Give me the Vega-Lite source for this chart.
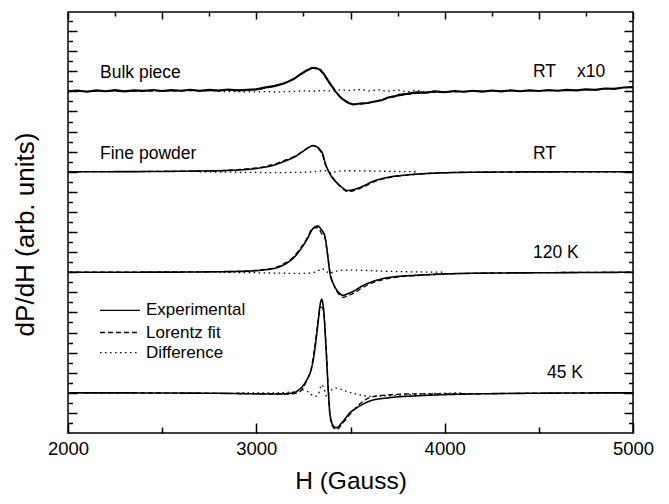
{
  "$schema": "https://vega.github.io/schema/vega-lite/v6.json",
  "autosize": {"type": "none"},
  "width": 565,
  "height": 421,
  "padding": {"left": 68, "top": 12, "right": 36, "bottom": 71},
  "background": "white",
  "config": {
    "view": {"stroke": "black", "strokeWidth": 1.5},
    "font": "Liberation Sans",
    "axis": {"labelFont": "Liberation Sans", "titleFont": "Liberation Sans", "titleFontWeight": "normal", "tickColor": "black", "tickWidth": 1.5, "labelColor": "black", "titleColor": "black", "grid": false, "domain": false}
  },
  "datasets": {
    "curves": [
      {"trace": "fine", "kind": "Experimental", "H": 2000, "v": 26.0},
      {"trace": "fine", "kind": "Experimental", "H": 2400, "v": 26.02},
      {"trace": "fine", "kind": "Experimental", "H": 2600, "v": 26.05},
      {"trace": "fine", "kind": "Experimental", "H": 2800, "v": 26.1},
      {"trace": "fine", "kind": "Experimental", "H": 2900, "v": 26.17},
      {"trace": "fine", "kind": "Experimental", "H": 3000, "v": 26.33},
      {"trace": "fine", "kind": "Experimental", "H": 3100, "v": 26.7},
      {"trace": "fine", "kind": "Experimental", "H": 3150, "v": 27.05},
      {"trace": "fine", "kind": "Experimental", "H": 3200, "v": 27.45},
      {"trace": "fine", "kind": "Experimental", "H": 3250, "v": 28.05},
      {"trace": "fine", "kind": "Experimental", "H": 3280, "v": 28.45},
      {"trace": "fine", "kind": "Experimental", "H": 3300, "v": 28.6},
      {"trace": "fine", "kind": "Experimental", "H": 3320, "v": 28.5},
      {"trace": "fine", "kind": "Experimental", "H": 3338, "v": 28.2},
      {"trace": "fine", "kind": "Experimental", "H": 3354, "v": 27.7},
      {"trace": "fine", "kind": "Experimental", "H": 3365, "v": 26.9},
      {"trace": "fine", "kind": "Experimental", "H": 3375, "v": 26.4},
      {"trace": "fine", "kind": "Experimental", "H": 3385, "v": 26.0},
      {"trace": "fine", "kind": "Experimental", "H": 3400, "v": 25.5},
      {"trace": "fine", "kind": "Experimental", "H": 3420, "v": 25.05},
      {"trace": "fine", "kind": "Experimental", "H": 3445, "v": 24.6},
      {"trace": "fine", "kind": "Experimental", "H": 3465, "v": 24.3},
      {"trace": "fine", "kind": "Experimental", "H": 3481, "v": 24.13},
      {"trace": "fine", "kind": "Experimental", "H": 3500, "v": 24.15},
      {"trace": "fine", "kind": "Experimental", "H": 3530, "v": 24.3},
      {"trace": "fine", "kind": "Experimental", "H": 3570, "v": 24.6},
      {"trace": "fine", "kind": "Experimental", "H": 3620, "v": 25.05},
      {"trace": "fine", "kind": "Experimental", "H": 3700, "v": 25.45},
      {"trace": "fine", "kind": "Experimental", "H": 3800, "v": 25.68},
      {"trace": "fine", "kind": "Experimental", "H": 3900, "v": 25.82},
      {"trace": "fine", "kind": "Experimental", "H": 4000, "v": 25.9},
      {"trace": "fine", "kind": "Experimental", "H": 4200, "v": 25.96},
      {"trace": "fine", "kind": "Experimental", "H": 4500, "v": 25.99},
      {"trace": "fine", "kind": "Experimental", "H": 5000, "v": 26.0},

      {"trace": "fine", "kind": "Difference", "H": 2700, "v": 26.0},
      {"trace": "fine", "kind": "Difference", "H": 2900, "v": 25.95},
      {"trace": "fine", "kind": "Difference", "H": 3100, "v": 25.92},
      {"trace": "fine", "kind": "Difference", "H": 3250, "v": 25.95},
      {"trace": "fine", "kind": "Difference", "H": 3330, "v": 26.05},
      {"trace": "fine", "kind": "Difference", "H": 3360, "v": 26.15},
      {"trace": "fine", "kind": "Difference", "H": 3380, "v": 26.0},
      {"trace": "fine", "kind": "Difference", "H": 3400, "v": 25.9},
      {"trace": "fine", "kind": "Difference", "H": 3430, "v": 26.05},
      {"trace": "fine", "kind": "Difference", "H": 3500, "v": 26.1},
      {"trace": "fine", "kind": "Difference", "H": 3600, "v": 26.08},
      {"trace": "fine", "kind": "Difference", "H": 3700, "v": 26.04},
      {"trace": "fine", "kind": "Difference", "H": 3850, "v": 26.0},

      {"trace": "fine", "kind": "Lorentz fit", "H": 2000, "v": 26.0},
      {"trace": "fine", "kind": "Lorentz fit", "H": 2600, "v": 26.05},
      {"trace": "fine", "kind": "Lorentz fit", "H": 2800, "v": 26.1},
      {"trace": "fine", "kind": "Lorentz fit", "H": 2900, "v": 26.22},
      {"trace": "fine", "kind": "Lorentz fit", "H": 3000, "v": 26.38},
      {"trace": "fine", "kind": "Lorentz fit", "H": 3100, "v": 26.78},
      {"trace": "fine", "kind": "Lorentz fit", "H": 3150, "v": 27.13},
      {"trace": "fine", "kind": "Lorentz fit", "H": 3200, "v": 27.5},
      {"trace": "fine", "kind": "Lorentz fit", "H": 3250, "v": 28.1},
      {"trace": "fine", "kind": "Lorentz fit", "H": 3280, "v": 28.45},
      {"trace": "fine", "kind": "Lorentz fit", "H": 3300, "v": 28.6},
      {"trace": "fine", "kind": "Lorentz fit", "H": 3320, "v": 28.45},
      {"trace": "fine", "kind": "Lorentz fit", "H": 3338, "v": 28.1},
      {"trace": "fine", "kind": "Lorentz fit", "H": 3354, "v": 27.55},
      {"trace": "fine", "kind": "Lorentz fit", "H": 3365, "v": 26.8},
      {"trace": "fine", "kind": "Lorentz fit", "H": 3375, "v": 26.35},
      {"trace": "fine", "kind": "Lorentz fit", "H": 3385, "v": 26.0},
      {"trace": "fine", "kind": "Lorentz fit", "H": 3400, "v": 25.6},
      {"trace": "fine", "kind": "Lorentz fit", "H": 3420, "v": 25.05},
      {"trace": "fine", "kind": "Lorentz fit", "H": 3445, "v": 24.55},
      {"trace": "fine", "kind": "Lorentz fit", "H": 3465, "v": 24.22},
      {"trace": "fine", "kind": "Lorentz fit", "H": 3481, "v": 24.05},
      {"trace": "fine", "kind": "Lorentz fit", "H": 3500, "v": 24.05},
      {"trace": "fine", "kind": "Lorentz fit", "H": 3530, "v": 24.2},
      {"trace": "fine", "kind": "Lorentz fit", "H": 3570, "v": 24.5},
      {"trace": "fine", "kind": "Lorentz fit", "H": 3620, "v": 24.97},
      {"trace": "fine", "kind": "Lorentz fit", "H": 3700, "v": 25.4},
      {"trace": "fine", "kind": "Lorentz fit", "H": 3800, "v": 25.66},
      {"trace": "fine", "kind": "Lorentz fit", "H": 3900, "v": 25.82},
      {"trace": "fine", "kind": "Lorentz fit", "H": 4000, "v": 25.9},
      {"trace": "fine", "kind": "Lorentz fit", "H": 4200, "v": 25.96},
      {"trace": "fine", "kind": "Lorentz fit", "H": 5000, "v": 26.0},

      {"trace": "k120", "kind": "Experimental", "H": 2000, "v": 16.0},
      {"trace": "k120", "kind": "Experimental", "H": 2500, "v": 16.01},
      {"trace": "k120", "kind": "Experimental", "H": 2800, "v": 16.05},
      {"trace": "k120", "kind": "Experimental", "H": 2950, "v": 16.1},
      {"trace": "k120", "kind": "Experimental", "H": 3050, "v": 16.25},
      {"trace": "k120", "kind": "Experimental", "H": 3100, "v": 16.4},
      {"trace": "k120", "kind": "Experimental", "H": 3142, "v": 16.7},
      {"trace": "k120", "kind": "Experimental", "H": 3190, "v": 17.3},
      {"trace": "k120", "kind": "Experimental", "H": 3232, "v": 18.2},
      {"trace": "k120", "kind": "Experimental", "H": 3270, "v": 19.3},
      {"trace": "k120", "kind": "Experimental", "H": 3301, "v": 20.35},
      {"trace": "k120", "kind": "Experimental", "H": 3327, "v": 20.6},
      {"trace": "k120", "kind": "Experimental", "H": 3345, "v": 20.25},
      {"trace": "k120", "kind": "Experimental", "H": 3365, "v": 19.5},
      {"trace": "k120", "kind": "Experimental", "H": 3378, "v": 17.8},
      {"trace": "k120", "kind": "Experimental", "H": 3391, "v": 15.9},
      {"trace": "k120", "kind": "Experimental", "H": 3410, "v": 14.8},
      {"trace": "k120", "kind": "Experimental", "H": 3428, "v": 14.2},
      {"trace": "k120", "kind": "Experimental", "H": 3445, "v": 13.85},
      {"trace": "k120", "kind": "Experimental", "H": 3460, "v": 13.7},
      {"trace": "k120", "kind": "Experimental", "H": 3490, "v": 13.9},
      {"trace": "k120", "kind": "Experimental", "H": 3530, "v": 14.25},
      {"trace": "k120", "kind": "Experimental", "H": 3550, "v": 14.5},
      {"trace": "k120", "kind": "Experimental", "H": 3600, "v": 14.95},
      {"trace": "k120", "kind": "Experimental", "H": 3673, "v": 15.37},
      {"trace": "k120", "kind": "Experimental", "H": 3750, "v": 15.58},
      {"trace": "k120", "kind": "Experimental", "H": 3853, "v": 15.7},
      {"trace": "k120", "kind": "Experimental", "H": 4000, "v": 15.83},
      {"trace": "k120", "kind": "Experimental", "H": 4200, "v": 15.91},
      {"trace": "k120", "kind": "Experimental", "H": 4559, "v": 15.95},
      {"trace": "k120", "kind": "Experimental", "H": 5000, "v": 16.0},

      {"trace": "k120", "kind": "Difference", "H": 2800, "v": 16.0},
      {"trace": "k120", "kind": "Difference", "H": 3000, "v": 15.95},
      {"trace": "k120", "kind": "Difference", "H": 3150, "v": 15.9},
      {"trace": "k120", "kind": "Difference", "H": 3250, "v": 15.88},
      {"trace": "k120", "kind": "Difference", "H": 3320, "v": 16.05},
      {"trace": "k120", "kind": "Difference", "H": 3349, "v": 16.37},
      {"trace": "k120", "kind": "Difference", "H": 3370, "v": 16.1},
      {"trace": "k120", "kind": "Difference", "H": 3390, "v": 15.9},
      {"trace": "k120", "kind": "Difference", "H": 3420, "v": 16.1},
      {"trace": "k120", "kind": "Difference", "H": 3480, "v": 16.22},
      {"trace": "k120", "kind": "Difference", "H": 3550, "v": 16.2},
      {"trace": "k120", "kind": "Difference", "H": 3650, "v": 16.12},
      {"trace": "k120", "kind": "Difference", "H": 3800, "v": 16.05},
      {"trace": "k120", "kind": "Difference", "H": 4000, "v": 16.0},

      {"trace": "k120", "kind": "Lorentz fit", "H": 2000, "v": 16.0},
      {"trace": "k120", "kind": "Lorentz fit", "H": 2800, "v": 16.05},
      {"trace": "k120", "kind": "Lorentz fit", "H": 2950, "v": 16.13},
      {"trace": "k120", "kind": "Lorentz fit", "H": 3050, "v": 16.3},
      {"trace": "k120", "kind": "Lorentz fit", "H": 3100, "v": 16.48},
      {"trace": "k120", "kind": "Lorentz fit", "H": 3142, "v": 16.8},
      {"trace": "k120", "kind": "Lorentz fit", "H": 3190, "v": 17.4},
      {"trace": "k120", "kind": "Lorentz fit", "H": 3232, "v": 18.32},
      {"trace": "k120", "kind": "Lorentz fit", "H": 3270, "v": 19.42},
      {"trace": "k120", "kind": "Lorentz fit", "H": 3301, "v": 20.4},
      {"trace": "k120", "kind": "Lorentz fit", "H": 3327, "v": 20.45},
      {"trace": "k120", "kind": "Lorentz fit", "H": 3345, "v": 19.9},
      {"trace": "k120", "kind": "Lorentz fit", "H": 3365, "v": 19.35},
      {"trace": "k120", "kind": "Lorentz fit", "H": 3378, "v": 17.8},
      {"trace": "k120", "kind": "Lorentz fit", "H": 3391, "v": 16.0},
      {"trace": "k120", "kind": "Lorentz fit", "H": 3410, "v": 14.8},
      {"trace": "k120", "kind": "Lorentz fit", "H": 3428, "v": 14.1},
      {"trace": "k120", "kind": "Lorentz fit", "H": 3445, "v": 13.7},
      {"trace": "k120", "kind": "Lorentz fit", "H": 3460, "v": 13.5},
      {"trace": "k120", "kind": "Lorentz fit", "H": 3490, "v": 13.68},
      {"trace": "k120", "kind": "Lorentz fit", "H": 3530, "v": 14.05},
      {"trace": "k120", "kind": "Lorentz fit", "H": 3550, "v": 14.3},
      {"trace": "k120", "kind": "Lorentz fit", "H": 3600, "v": 14.8},
      {"trace": "k120", "kind": "Lorentz fit", "H": 3673, "v": 15.27},
      {"trace": "k120", "kind": "Lorentz fit", "H": 3750, "v": 15.52},
      {"trace": "k120", "kind": "Lorentz fit", "H": 3853, "v": 15.67},
      {"trace": "k120", "kind": "Lorentz fit", "H": 4000, "v": 15.83},
      {"trace": "k120", "kind": "Lorentz fit", "H": 4200, "v": 15.91},
      {"trace": "k120", "kind": "Lorentz fit", "H": 5000, "v": 16.0},

      {"trace": "k45", "kind": "Experimental", "H": 2000, "v": 4.0},
      {"trace": "k45", "kind": "Experimental", "H": 2500, "v": 3.98},
      {"trace": "k45", "kind": "Experimental", "H": 2800, "v": 3.95},
      {"trace": "k45", "kind": "Experimental", "H": 3000, "v": 3.9},
      {"trace": "k45", "kind": "Experimental", "H": 3100, "v": 3.88},
      {"trace": "k45", "kind": "Experimental", "H": 3180, "v": 3.95},
      {"trace": "k45", "kind": "Experimental", "H": 3230, "v": 4.35},
      {"trace": "k45", "kind": "Experimental", "H": 3265, "v": 5.2},
      {"trace": "k45", "kind": "Experimental", "H": 3295, "v": 6.6},
      {"trace": "k45", "kind": "Experimental", "H": 3312, "v": 8.5},
      {"trace": "k45", "kind": "Experimental", "H": 3329, "v": 11.2},
      {"trace": "k45", "kind": "Experimental", "H": 3340, "v": 12.9},
      {"trace": "k45", "kind": "Experimental", "H": 3347, "v": 13.3},
      {"trace": "k45", "kind": "Experimental", "H": 3356, "v": 12.5},
      {"trace": "k45", "kind": "Experimental", "H": 3370, "v": 8.5},
      {"trace": "k45", "kind": "Experimental", "H": 3382, "v": 4.2},
      {"trace": "k45", "kind": "Experimental", "H": 3391, "v": 1.9},
      {"trace": "k45", "kind": "Experimental", "H": 3409, "v": 0.7},
      {"trace": "k45", "kind": "Experimental", "H": 3427, "v": 0.53},
      {"trace": "k45", "kind": "Experimental", "H": 3453, "v": 1.0},
      {"trace": "k45", "kind": "Experimental", "H": 3497, "v": 2.0},
      {"trace": "k45", "kind": "Experimental", "H": 3550, "v": 2.7},
      {"trace": "k45", "kind": "Experimental", "H": 3605, "v": 3.2},
      {"trace": "k45", "kind": "Experimental", "H": 3700, "v": 3.5},
      {"trace": "k45", "kind": "Experimental", "H": 3850, "v": 3.7},
      {"trace": "k45", "kind": "Experimental", "H": 4000, "v": 3.82},
      {"trace": "k45", "kind": "Experimental", "H": 4200, "v": 3.9},
      {"trace": "k45", "kind": "Experimental", "H": 4500, "v": 3.96},
      {"trace": "k45", "kind": "Experimental", "H": 5000, "v": 4.0},

      {"trace": "k45", "kind": "Difference", "H": 2900, "v": 4.0},
      {"trace": "k45", "kind": "Difference", "H": 3100, "v": 4.0},
      {"trace": "k45", "kind": "Difference", "H": 3200, "v": 4.1},
      {"trace": "k45", "kind": "Difference", "H": 3240, "v": 4.3},
      {"trace": "k45", "kind": "Difference", "H": 3275, "v": 4.1},
      {"trace": "k45", "kind": "Difference", "H": 3310, "v": 3.63},
      {"trace": "k45", "kind": "Difference", "H": 3330, "v": 3.9},
      {"trace": "k45", "kind": "Difference", "H": 3347, "v": 4.8},
      {"trace": "k45", "kind": "Difference", "H": 3360, "v": 4.4},
      {"trace": "k45", "kind": "Difference", "H": 3373, "v": 3.6},
      {"trace": "k45", "kind": "Difference", "H": 3385, "v": 3.9},
      {"trace": "k45", "kind": "Difference", "H": 3400, "v": 4.3},
      {"trace": "k45", "kind": "Difference", "H": 3427, "v": 4.47},
      {"trace": "k45", "kind": "Difference", "H": 3455, "v": 4.3},
      {"trace": "k45", "kind": "Difference", "H": 3480, "v": 4.13},
      {"trace": "k45", "kind": "Difference", "H": 3550, "v": 3.8},
      {"trace": "k45", "kind": "Difference", "H": 3600, "v": 3.65},
      {"trace": "k45", "kind": "Difference", "H": 3700, "v": 3.7},
      {"trace": "k45", "kind": "Difference", "H": 3800, "v": 3.8},
      {"trace": "k45", "kind": "Difference", "H": 3900, "v": 3.9},
      {"trace": "k45", "kind": "Difference", "H": 4100, "v": 4.0},

      {"trace": "k45", "kind": "Lorentz fit", "H": 2000, "v": 4.0},
      {"trace": "k45", "kind": "Lorentz fit", "H": 2800, "v": 3.95},
      {"trace": "k45", "kind": "Lorentz fit", "H": 3000, "v": 3.9},
      {"trace": "k45", "kind": "Lorentz fit", "H": 3100, "v": 3.88},
      {"trace": "k45", "kind": "Lorentz fit", "H": 3180, "v": 3.88},
      {"trace": "k45", "kind": "Lorentz fit", "H": 3230, "v": 4.1},
      {"trace": "k45", "kind": "Lorentz fit", "H": 3265, "v": 5.1},
      {"trace": "k45", "kind": "Lorentz fit", "H": 3295, "v": 6.75},
      {"trace": "k45", "kind": "Lorentz fit", "H": 3312, "v": 8.85},
      {"trace": "k45", "kind": "Lorentz fit", "H": 3329, "v": 11.3},
      {"trace": "k45", "kind": "Lorentz fit", "H": 3340, "v": 12.5},
      {"trace": "k45", "kind": "Lorentz fit", "H": 3347, "v": 12.5},
      {"trace": "k45", "kind": "Lorentz fit", "H": 3356, "v": 12.2},
      {"trace": "k45", "kind": "Lorentz fit", "H": 3370, "v": 8.8},
      {"trace": "k45", "kind": "Lorentz fit", "H": 3382, "v": 4.3},
      {"trace": "k45", "kind": "Lorentz fit", "H": 3391, "v": 1.7},
      {"trace": "k45", "kind": "Lorentz fit", "H": 3409, "v": 0.55},
      {"trace": "k45", "kind": "Lorentz fit", "H": 3427, "v": 0.35},
      {"trace": "k45", "kind": "Lorentz fit", "H": 3453, "v": 0.85},
      {"trace": "k45", "kind": "Lorentz fit", "H": 3497, "v": 1.85},
      {"trace": "k45", "kind": "Lorentz fit", "H": 3550, "v": 2.9},
      {"trace": "k45", "kind": "Lorentz fit", "H": 3605, "v": 3.55},
      {"trace": "k45", "kind": "Lorentz fit", "H": 3700, "v": 3.8},
      {"trace": "k45", "kind": "Lorentz fit", "H": 3850, "v": 3.9},
      {"trace": "k45", "kind": "Lorentz fit", "H": 4000, "v": 3.9},
      {"trace": "k45", "kind": "Lorentz fit", "H": 4500, "v": 3.96},
      {"trace": "k45", "kind": "Lorentz fit", "H": 5000, "v": 4.0},

      {"trace": "bulk", "kind": "Difference", "H": 2800, "v": 34.0},
      {"trace": "bulk", "kind": "Difference", "H": 2900, "v": 33.97},
      {"trace": "bulk", "kind": "Difference", "H": 3000, "v": 33.95},
      {"trace": "bulk", "kind": "Difference", "H": 3050, "v": 33.98},
      {"trace": "bulk", "kind": "Difference", "H": 3100, "v": 33.94},
      {"trace": "bulk", "kind": "Difference", "H": 3150, "v": 33.97},
      {"trace": "bulk", "kind": "Difference", "H": 3200, "v": 34.0},
      {"trace": "bulk", "kind": "Difference", "H": 3250, "v": 34.05},
      {"trace": "bulk", "kind": "Difference", "H": 3300, "v": 34.03},
      {"trace": "bulk", "kind": "Difference", "H": 3350, "v": 34.08},
      {"trace": "bulk", "kind": "Difference", "H": 3400, "v": 34.05},
      {"trace": "bulk", "kind": "Difference", "H": 3450, "v": 34.15},
      {"trace": "bulk", "kind": "Difference", "H": 3500, "v": 34.1},
      {"trace": "bulk", "kind": "Difference", "H": 3550, "v": 34.18},
      {"trace": "bulk", "kind": "Difference", "H": 3600, "v": 34.05},
      {"trace": "bulk", "kind": "Difference", "H": 3650, "v": 34.15},
      {"trace": "bulk", "kind": "Difference", "H": 3700, "v": 34.02},
      {"trace": "bulk", "kind": "Difference", "H": 3750, "v": 34.12},
      {"trace": "bulk", "kind": "Difference", "H": 3800, "v": 33.98},
      {"trace": "bulk", "kind": "Difference", "H": 3850, "v": 34.08},
      {"trace": "bulk", "kind": "Difference", "H": 3900, "v": 33.95},
      {"trace": "bulk", "kind": "Difference", "H": 3950, "v": 34.05},

      {"trace": "bulk", "kind": "Lorentz fit", "H": 2000, "v": 34.0},
      {"trace": "bulk", "kind": "Lorentz fit", "H": 2600, "v": 34.06},
      {"trace": "bulk", "kind": "Lorentz fit", "H": 2900, "v": 34.12},
      {"trace": "bulk", "kind": "Lorentz fit", "H": 3000, "v": 34.2},
      {"trace": "bulk", "kind": "Lorentz fit", "H": 3100, "v": 34.55},
      {"trace": "bulk", "kind": "Lorentz fit", "H": 3150, "v": 34.85},
      {"trace": "bulk", "kind": "Lorentz fit", "H": 3200, "v": 35.25},
      {"trace": "bulk", "kind": "Lorentz fit", "H": 3250, "v": 35.9},
      {"trace": "bulk", "kind": "Lorentz fit", "H": 3296, "v": 36.3},
      {"trace": "bulk", "kind": "Lorentz fit", "H": 3330, "v": 36.2},
      {"trace": "bulk", "kind": "Lorentz fit", "H": 3360, "v": 35.6},
      {"trace": "bulk", "kind": "Lorentz fit", "H": 3390, "v": 34.75},
      {"trace": "bulk", "kind": "Lorentz fit", "H": 3420, "v": 34.0},
      {"trace": "bulk", "kind": "Lorentz fit", "H": 3450, "v": 33.35},
      {"trace": "bulk", "kind": "Lorentz fit", "H": 3490, "v": 32.85},
      {"trace": "bulk", "kind": "Lorentz fit", "H": 3520, "v": 32.7},
      {"trace": "bulk", "kind": "Lorentz fit", "H": 3560, "v": 32.75},
      {"trace": "bulk", "kind": "Lorentz fit", "H": 3620, "v": 32.95},
      {"trace": "bulk", "kind": "Lorentz fit", "H": 3700, "v": 33.35},
      {"trace": "bulk", "kind": "Lorentz fit", "H": 3800, "v": 33.7},
      {"trace": "bulk", "kind": "Lorentz fit", "H": 3900, "v": 33.88},
      {"trace": "bulk", "kind": "Lorentz fit", "H": 4100, "v": 33.98},
      {"trace": "bulk", "kind": "Lorentz fit", "H": 4300, "v": 34.03}
    ],
    "bulk": [
      {"H": 2000, "v": 34.0}, {"H": 2050, "v": 34.08}, {"H": 2100, "v": 33.96}, {"H": 2150, "v": 34.1},
      {"H": 2200, "v": 34.02}, {"H": 2250, "v": 34.12}, {"H": 2300, "v": 34.0}, {"H": 2350, "v": 34.1},
      {"H": 2400, "v": 34.05}, {"H": 2450, "v": 34.14}, {"H": 2500, "v": 34.04}, {"H": 2550, "v": 34.12},
      {"H": 2600, "v": 34.06}, {"H": 2650, "v": 34.16}, {"H": 2700, "v": 34.05}, {"H": 2750, "v": 34.15},
      {"H": 2800, "v": 34.08}, {"H": 2850, "v": 34.18}, {"H": 2900, "v": 34.1}, {"H": 2950, "v": 34.15},
      {"H": 3000, "v": 34.2}, {"H": 3050, "v": 34.4}, {"H": 3100, "v": 34.55}, {"H": 3150, "v": 34.8},
      {"H": 3200, "v": 35.25}, {"H": 3230, "v": 35.65}, {"H": 3260, "v": 36.0}, {"H": 3296, "v": 36.35},
      {"H": 3320, "v": 36.3}, {"H": 3340, "v": 36.15}, {"H": 3360, "v": 35.7}, {"H": 3380, "v": 35.1},
      {"H": 3400, "v": 34.55}, {"H": 3420, "v": 34.0}, {"H": 3440, "v": 33.55}, {"H": 3460, "v": 33.2},
      {"H": 3490, "v": 32.85}, {"H": 3515, "v": 32.7}, {"H": 3550, "v": 32.8}, {"H": 3590, "v": 32.85},
      {"H": 3630, "v": 33.0}, {"H": 3670, "v": 33.15}, {"H": 3700, "v": 33.4}, {"H": 3730, "v": 33.5},
      {"H": 3760, "v": 33.65}, {"H": 3800, "v": 33.75}, {"H": 3850, "v": 33.9}, {"H": 3900, "v": 33.88},
      {"H": 3950, "v": 34.0}, {"H": 4000, "v": 33.92}, {"H": 4050, "v": 34.04}, {"H": 4100, "v": 33.96},
      {"H": 4150, "v": 34.06}, {"H": 4200, "v": 33.98}, {"H": 4250, "v": 34.08}, {"H": 4300, "v": 34.0},
      {"H": 4350, "v": 34.1}, {"H": 4400, "v": 34.02}, {"H": 4450, "v": 34.1}, {"H": 4500, "v": 34.04},
      {"H": 4550, "v": 34.12}, {"H": 4600, "v": 34.06}, {"H": 4650, "v": 34.15}, {"H": 4700, "v": 34.1},
      {"H": 4750, "v": 34.2}, {"H": 4800, "v": 34.15}, {"H": 4850, "v": 34.28}, {"H": 4900, "v": 34.25},
      {"H": 4950, "v": 34.38}, {"H": 5000, "v": 34.42}
    ],
    "legendRules": [
      {"kind": "Experimental", "H1": 2170, "H2": 2382, "v": 12.2},
      {"kind": "Lorentz fit", "H1": 2170, "H2": 2382, "v": 10.0},
      {"kind": "Difference", "H1": 2170, "H2": 2382, "v": 8.0}
    ],
    "legendText": [
      {"label": "Experimental", "H": 2414, "v": 12.2},
      {"label": "Lorentz fit", "H": 2414, "v": 10.0},
      {"label": "Difference", "H": 2414, "v": 8.0}
    ],
    "labels": [
      {"label": "Bulk piece", "H": 2170, "v": 35.8},
      {"label": "RT", "H": 4469, "v": 35.9},
      {"label": "x10", "H": 4703, "v": 35.9},
      {"label": "Fine powder", "H": 2170, "v": 27.8},
      {"label": "RT", "H": 4469, "v": 27.8},
      {"label": "120 K", "H": 4469, "v": 17.95},
      {"label": "45 K", "H": 4543, "v": 6.0}
    ]
  },
  "resolve": {"axis": {"x": "independent", "y": "independent"}},
  "layer": [
    {
      "data": {"name": "curves"},
      "transform": [{"filter": "datum.kind === 'Difference'"}],
      "mark": {"type": "line", "color": "black", "strokeWidth": 1.3, "interpolate": "monotone"},
      "encoding": {
        "x": {"field": "H", "type": "quantitative", "scale": {"domain": [2000, 5000], "nice": false, "zero": false}, "axis": null},
        "y": {"field": "v", "type": "quantitative", "scale": {"domain": [0, 41.9], "nice": false, "zero": false}, "axis": null},
        "detail": {"field": "trace"},
        "strokeDash": {"field": "kind", "type": "nominal", "scale": {"domain": ["Experimental", "Lorentz fit", "Difference"], "range": [[1, 0], [5, 3], [1.5, 3.5]]}, "legend": null}
      }
    },
    {
      "data": {"name": "curves"},
      "transform": [{"filter": "datum.kind === 'Lorentz fit'"}],
      "mark": {"type": "line", "color": "black", "strokeWidth": 1.3, "interpolate": "monotone"},
      "encoding": {
        "x": {"field": "H", "type": "quantitative", "axis": null},
        "y": {"field": "v", "type": "quantitative", "axis": null},
        "detail": {"field": "trace"},
        "strokeDash": {"field": "kind", "type": "nominal", "legend": null}
      }
    },
    {
      "data": {"name": "curves"},
      "transform": [{"filter": "datum.kind === 'Experimental'"}],
      "mark": {"type": "line", "color": "black", "strokeWidth": 1.6, "interpolate": "monotone"},
      "encoding": {
        "x": {"field": "H", "type": "quantitative", "title": "H (Gauss)",
          "axis": {"orient": "bottom", "values": [2000, 2500, 3000, 3500, 4000, 4500, 5000], "format": "d",
            "tickSize": {"condition": {"test": "datum.value % 1000 === 0", "value": -10}, "value": -6},
            "labelExpr": "datum.value % 1000 === 0 ? datum.label : ''",
            "labelFontSize": 18.5, "labelPadding": 16, "labelFlush": false, "labelOverlap": false,
            "titleFontSize": 24.5, "titlePadding": 8}},
        "y": {"field": "v", "type": "quantitative", "title": "dP/dH (arb. units)",
          "axis": {"orient": "left", "values": [1,2,3,4,5,6,7,8,9,10,11,12,13,14,15,16,17,18,19,20,21,22,23,24,25,26,27,28,29,30,31,32,33,34,35,36,37,38,39,40,41],
            "tickSize": {"condition": {"test": "datum.value % 2 === 0", "value": -9}, "value": -4.5},
            "labels": false, "titleFontSize": 26, "titleX": -30, "titleY": 222, "titleBaseline": "bottom", "titleAngle": -90}},
        "detail": {"field": "trace"},
        "strokeDash": {"field": "kind", "type": "nominal", "legend": null}
      }
    },
    {
      "data": {"name": "bulk"},
      "mark": {"type": "line", "color": "black", "strokeWidth": 2.1, "interpolate": "linear"},
      "encoding": {
        "x": {"field": "H", "type": "quantitative", "axis": null},
        "y": {"field": "v", "type": "quantitative", "axis": null}
      }
    },
    {
      "data": {"name": "legendRules"},
      "mark": {"type": "rule", "color": "black", "strokeWidth": 1.3},
      "encoding": {
        "x": {"field": "H1", "type": "quantitative", "axis": null},
        "x2": {"field": "H2"},
        "y": {"field": "v", "type": "quantitative", "axis": null},
        "strokeDash": {"field": "kind", "type": "nominal", "legend": null}
      }
    },
    {
      "data": {"name": "legendText"},
      "mark": {"type": "text", "align": "left", "baseline": "middle", "fontSize": 17, "font": "Liberation Sans", "color": "black"},
      "encoding": {
        "x": {"field": "H", "type": "quantitative", "axis": null},
        "y": {"field": "v", "type": "quantitative", "axis": null},
        "text": {"field": "label"}
      }
    },
    {
      "data": {"name": "labels"},
      "mark": {"type": "text", "align": "left", "baseline": "middle", "fontSize": 17.5, "font": "Liberation Sans", "color": "black"},
      "encoding": {
        "x": {"field": "H", "type": "quantitative",
          "axis": {"orient": "top", "values": [2000, 2250, 2500, 2750, 3000, 3250, 3500, 3750, 4000, 4250, 4500, 4750, 5000],
            "tickSize": {"condition": {"test": "datum.value % 500 === 0", "value": -7}, "value": -4},
            "labels": false, "title": null}},
        "y": {"field": "v", "type": "quantitative",
          "axis": {"orient": "right", "values": [1,2,3,4,5,6,7,8,9,10,11,12,13,14,15,16,17,18,19,20,21,22,23,24,25,26,27,28,29,30,31,32,33,34,35,36,37,38,39,40,41],
            "tickSize": {"condition": {"test": "datum.value % 2 === 0", "value": -9}, "value": -4.5},
            "labels": false, "title": null}},
        "text": {"field": "label"}
      }
    }
  ]
}
